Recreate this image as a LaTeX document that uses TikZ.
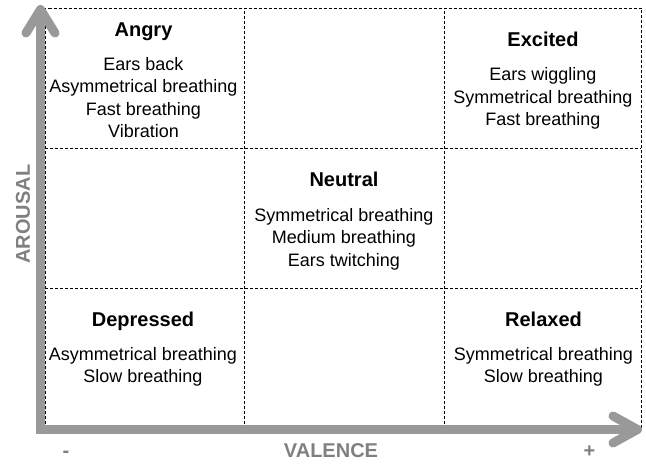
\documentclass[tikz,border=0pt]{standalone}
\usepackage{fontspec}
\setmainfont{Liberation Sans}

\definecolor{axisgray}{RGB}{153,153,153}
\definecolor{labelgray}{RGB}{128,128,128}

\tikzset{
  mood/.style={font=\fontsize{20}{24}\selectfont\bfseries, anchor=base, inner sep=0pt},
  cue/.style={font=\fontsize{18}{22.5}\selectfont, align=center, anchor=base, inner sep=0pt},
  axislabel/.style={font=\fontsize{20}{24}\selectfont\bfseries, text=labelgray, anchor=base, inner sep=0pt},
  axisline/.style={draw=axisgray, line width=9pt},
  cellgrid/.style={dash pattern=on 3pt off 2pt, line width=0.8pt}
}

\begin{document}
\begin{tikzpicture}[x=1pt,y=1pt]
    \useasboundingbox (0,0) rectangle (646,464);
    % dashed cells
    \draw[cellgrid] (45,34.5) rectangle (641,456);
    \draw[cellgrid] (244,34.5) -- (244,456);
    \draw[cellgrid] (444,34.5) -- (444,456);
    \draw[cellgrid] (45,316) -- (641,316);
    \draw[cellgrid] (45,176) -- (641,176);
    % axes
    \draw[axisline] (40.5,454.5) -- (40.5,34.5) -- (637.5,34.5);
    \draw[axisline, line cap=round, line join=round] (26,431) -- (40.5,454.5) -- (55,431);
    \draw[axisline, line cap=round, line join=round] (613,48) -- (637.5,34.5) -- (613,21);
    \node[axislabel, rotate=90] (arousal) at (30,250) {AROUSAL};
    \node[axislabel] (valence) at (331,6) {VALENCE};
    \node[axislabel] (minus) at (66,6) {-};
    \node[axislabel] (plus) at (589.5,6) {+};
    % top row (cue nodes sit on their last line)
    \node[mood] (angry) at (143.5,427) {Angry};
    \node[cue] (angrycues) at (143.5,326) {Ears back\\Asymmetrical breathing\\Fast breathing\\Vibration};
    \node[mood] (excited) at (543,417) {Excited};
    \node[cue] (excitedcues) at (543,338) {Ears wiggling\\Symmetrical breathing\\Fast breathing};
    % middle row
    \node[mood] (neutral) at (344,277) {Neutral};
    \node[cue] (neutralcues) at (344,197.5) {Symmetrical breathing\\Medium breathing\\Ears twitching};
    % bottom row
    \node[mood] (depressed) at (143,137) {Depressed};
    \node[cue] (depressedcues) at (143,81) {Asymmetrical breathing\\Slow breathing};
    \node[mood] (relaxed) at (543.5,137) {Relaxed};
    \node[cue] (relaxedcues) at (543.5,81) {Symmetrical breathing\\Slow breathing};
\end{tikzpicture}
\end{document}
